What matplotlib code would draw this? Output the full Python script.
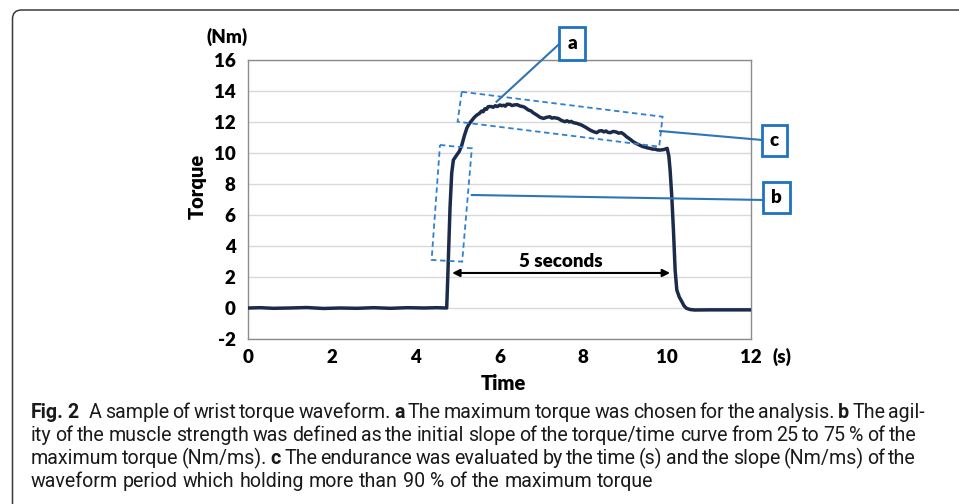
import matplotlib
matplotlib.use("Agg")
import matplotlib.pyplot as plt
from matplotlib.patches import Polygon, Rectangle, FancyBboxPatch
from matplotlib.transforms import Affine2D

# ---------------- data ----------------
time_s = [0.0, 0.3, 0.6, 1.0, 1.4, 1.8, 2.2, 2.6, 3.0, 3.4, 3.8, 4.2, 4.5, 4.74,
          4.76, 4.79, 4.82, 4.86, 4.90, 4.98, 5.04, 5.10, 5.16, 5.22, 5.28, 5.34,
          5.40, 5.46, 5.52, 5.57, 5.61, 5.65, 5.69, 5.73, 5.80, 5.85, 5.90, 5.95, 6.01,
          6.05, 6.10, 6.14, 6.18, 6.25, 6.30, 6.35, 6.42, 6.49, 6.55, 6.60, 6.69, 6.75,
          6.80, 6.89, 6.97, 7.05, 7.12, 7.20, 7.25, 7.30, 7.40, 7.48, 7.56, 7.61, 7.66,
          7.71, 7.76, 7.86, 7.96, 8.06, 8.16, 8.24, 8.32, 8.38, 8.44, 8.49, 8.54, 8.59,
          8.64, 8.71, 8.78, 8.84, 8.91, 8.97, 9.03, 9.11, 9.19, 9.27, 9.35, 9.41, 9.47,
          9.53, 9.59, 9.65, 9.71, 9.77, 9.83, 9.92, 10.00, 10.04, 10.07, 10.11, 10.15,
          10.19, 10.23, 10.29, 10.35, 10.40, 10.46, 10.55, 10.66, 11.0, 11.5, 12.0]
torque_nm = [0.0, 0.02, -0.02, 0.0, 0.03, -0.03, 0.0, -0.02, 0.02, -0.02, 0.02, 0.0, 0.02, 0.0,
             1.5, 4.0, 6.5, 8.7, 9.55, 9.87, 10.1, 10.5, 11.1, 11.6, 11.9, 12.1,
             12.3, 12.45, 12.55, 12.7, 12.66, 12.85, 12.82, 12.99, 13.0, 12.95, 13.05, 13.0, 13.1,
             13.05, 13.08, 13.02, 13.15, 13.14, 13.06, 13.1, 13.12, 13.03, 13.0, 12.95, 12.77, 12.72,
             12.6, 12.45, 12.3, 12.23, 12.3, 12.34, 12.25, 12.28, 12.23, 12.1, 12.02, 12.08, 12.0,
             12.04, 11.96, 11.9, 11.8, 11.65, 11.48, 11.38, 11.31, 11.42, 11.44, 11.36, 11.42, 11.33,
             11.31, 11.39, 11.36, 11.28, 11.31, 11.2, 11.05, 10.9, 10.73, 10.6, 10.5, 10.42, 10.38,
             10.33, 10.3, 10.25, 10.25, 10.2, 10.19, 10.22, 10.3, 9.8, 8.9, 7.2, 5.0,
             2.45, 1.16, 0.7, 0.41, 0.15, -0.02, -0.1, -0.13, -0.12, -0.12, -0.12]
x_ticks = [0, 2, 4, 6, 8, 10, 12]
y_ticks = [-2, 0, 2, 4, 6, 8, 10, 12, 14, 16]

caption_lines = [
    [("Fig. 2", True), ("A sample of wrist torque waveform.", False), ("a", True),
     ("The maximum torque was chosen for the analysis.", False), ("b", True), ("The agil-", False)],
    [("ity of the muscle strength was defined as the initial slope of the torque/time curve from 25 to 75 % of the", False)],
    [("maximum torque (Nm/ms).", False), ("c", True),
     ("The endurance was evaluated by the time (s) and the slope (Nm/ms) of the", False)],
    [("waveform period which holding more than 90 % of the maximum torque", False)],
]

# ---------------- layout ----------------
W, H = 959, 504
plt.rcParams["font.family"] = ["Lato", "DejaVu Sans"]
plt.rcParams["font.weight"] = "bold"
plt.rcParams["axes.unicode_minus"] = False
fig = plt.figure(figsize=(W / 100, H / 100), dpi=100)
fig.patch.set_facecolor("white")
PX = Affine2D().scale(1 / W, -1 / H).translate(0, 1) + fig.transFigure

def fx(x):
    return x / W

def fy(y):
    return 1 - y / H

# outer rounded frame
frame = FancyBboxPatch((12.5, 10), 1200, 800, boxstyle="round,pad=0,rounding_size=9",
                       transform=PX, fill=False, ec="#3a3a3a", lw=1.1)
fig.add_artist(frame)

ax = fig.add_axes([fx(248), fy(339), (751 - 248) / W, (339 - 60) / H])
ax.plot(time_s, torque_nm, color="#1c2b4b", lw=2.5, solid_joinstyle="round", zorder=3)
ax.set_xlim(0, 12)
ax.set_ylim(-2, 16)
ax.set_xticks(x_ticks)
ax.set_yticks(y_ticks)
ax.set_xticklabels([str(v) for v in x_ticks], fontweight="heavy", fontsize=13.5)
ax.set_yticklabels([str(v) for v in y_ticks], fontweight="heavy", fontsize=13.5)
ax.tick_params(length=0)
ax.tick_params(axis="y", pad=9)
ax.tick_params(axis="x", pad=7)
ax.yaxis.grid(True, color="#d9d9d9", lw=1)
ax.set_axisbelow(True)
for sp in ax.spines.values():
    sp.set_color("#8c8c8c")
    sp.set_linewidth(1)

blue_dash = "#2f80d0"
blue_line = "#2e75b6"
blue_box = "#1f72c0"

# dashed region rectangles
rect_b = Polygon([(4.58, 10.52), (5.34, 10.30), (5.11, 2.99), (4.38, 3.10)], closed=True,
                 fill=False, ec=blue_dash, lw=1.3, ls=(0, (3, 2)), zorder=4, clip_on=False)
rect_c = Polygon([(5.10, 13.95), (9.89, 12.34), (9.81, 10.41), (5.00, 12.02)], closed=True,
                 fill=False, ec=blue_dash, lw=1.3, ls=(0, (3, 2)), zorder=4, clip_on=False)
ax.add_patch(rect_b)
ax.add_patch(rect_c)

# callout lines
ax.plot([7.40, 5.93], [16.97, 13.31], color=blue_line, lw=1.5, clip_on=False, zorder=4)
ax.plot([9.83, 12.26], [11.42, 10.84], color=blue_line, lw=1.5, clip_on=False, zorder=4)
ax.plot([5.34, 12.29], [7.29, 6.97], color=blue_line, lw=1.5, clip_on=False, zorder=4)

# callout boxes
for lbl, cx, cy, hw, hh in [("a", 7.73, 17.06, 0.31, 1.06),
                            ("c", 12.56, 10.81, 0.30, 1.00),
                            ("b", 12.61, 7.13, 0.32, 1.00)]:
    ax.add_patch(Rectangle((cx - hw, cy - hh), 2 * hw, 2 * hh, fc="white", ec=blue_box,
                           lw=2, clip_on=False, zorder=5))
    ax.text(cx, cy, lbl, ha="center", va="center", fontsize=13.5, fontweight="heavy",
            color="black", zorder=6, clip_on=False)

# 5 seconds arrow
ax.annotate("", xy=(4.87, 2.26), xytext=(10.07, 2.26),
            arrowprops=dict(arrowstyle="<|-|>", color="black", lw=1.5,
                            mutation_scale=11, shrinkA=0, shrinkB=0), zorder=5)
ax.text(7.47, 2.97, "5 seconds", ha="center", va="center", fontsize=13.5,
        fontweight="heavy", color="black", zorder=5)

# axis texts
fig.text(fx(227), fy(37), "(Nm)", ha="center", va="center", fontsize=13.5, fontweight="heavy")
fig.text(fx(197), fy(186), "Torque", ha="center", va="center", rotation=90,
         fontsize=14.5, fontweight="heavy")
fig.text(fx(503), fy(384), "Time", ha="center", va="center", fontsize=14.5, fontweight="heavy")
fig.text(fx(782), fy(357), "(s)", ha="center", va="center", fontsize=13.5, fontweight="heavy")

# ---------------- caption ----------------
cap_family = ["Roboto", "DejaVu Sans"]
renderer = fig.canvas.get_renderer()

def width_of(s, fs, bold):
    t = fig.text(0, 0, s, fontsize=fs, fontweight="bold" if bold else "normal",
                 family=cap_family, transform=PX)
    w = t.get_window_extent(renderer).width
    t.remove()
    return w

def words(parts):
    out = []
    for s, b in parts:
        for wd in s.split(" "):
            out.append((wd, b))
    return out

# fit font size to the last (unjustified) line
x_start = 31
last_right = 652
fs0 = 13.0
w_last = width_of(caption_lines[3][0][0], fs0, False)
fs = fs0 * (last_right - x_start) / w_last

space_w = width_of("a a", fs, False) - width_of("aa", fs, False)
targets = [925, 917, 916, None]
baselines = [417.5, 441, 464.3, 487]

for parts, tgt, yb in zip(caption_lines, targets, baselines):
    ws = words(parts)
    widths = [width_of(w, fs, b) for w, b in ws]
    gaps = [space_w] * (len(ws) - 1)
    if ws[0][0] == "Fig.":
        gaps[1] = space_w * 2.6  # wider gap after "Fig. 2"
    if tgt is not None and len(gaps) > 0:
        extra = (tgt - x_start) - (sum(widths) + sum(gaps))
        gaps = [g + extra / len(gaps) for g in gaps]
    x = x_start
    for i, ((wd, b), wdt) in enumerate(zip(ws, widths)):
        fig.text(x, yb, wd, fontsize=fs, fontweight="bold" if b else "normal",
                 family=cap_family, transform=PX, va="baseline", ha="left", color="#1a1a1a")
        x += wdt + (gaps[i] if i < len(gaps) else 0)

fig.savefig("out.png", dpi=100, facecolor="white")
